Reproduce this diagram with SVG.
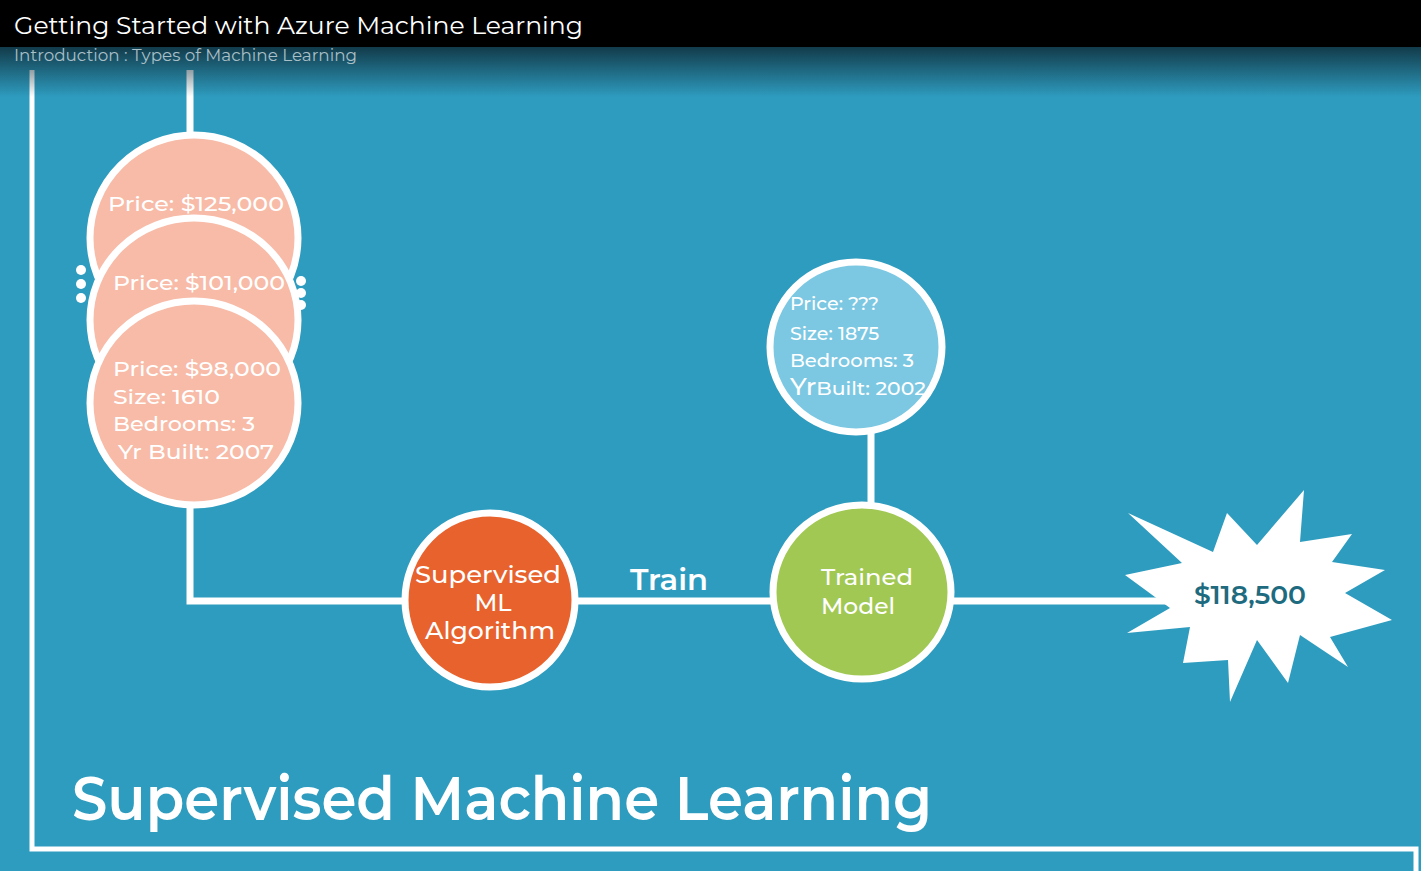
<svg xmlns="http://www.w3.org/2000/svg" width="1421" height="871" viewBox="0 0 1421 871">
<defs>
<linearGradient id="fade" x1="0" y1="0" x2="0" y2="1">
<stop offset="0" stop-color="#0d2a36" stop-opacity="0.85"/>
<stop offset="1" stop-color="#0d2a36" stop-opacity="0"/>
</linearGradient>
<style>
.t{font-family:"Montserrat","Open Sans","Noto Sans",sans-serif;fill:#fff}
.ln{stroke:#fff;stroke-width:7;fill:none}
.node{stroke:#fff;stroke-width:7}
.pink{fill:#F7BBA8}
.lbl{font-size:21px;font-weight:500}
</style>
</defs>
<rect width="1421" height="871" fill="#2E9CBF"/>
<g id="frame">
<polyline points="32,70 32,849 1416,849 1416,871" fill="none" stroke="#fff" stroke-width="5"/>
</g>
<g id="connectors">
<line class="ln" x1="190" y1="70" x2="190" y2="140"/>
<polyline class="ln" points="190,500 190,601 410,601"/>
<line class="ln" x1="572" y1="601" x2="776" y2="601"/>
<line class="ln" x1="871" y1="425" x2="871" y2="508"/>
<line class="ln" x1="950" y1="601" x2="1180" y2="601"/>
</g>
<rect x="0" y="47" width="1421" height="50" fill="url(#fade)"/>
<rect x="0" y="0" width="1421" height="47" fill="#000"/>
<text class="t" x="14" y="34" font-size="25" textLength="569" lengthAdjust="spacingAndGlyphs">Getting Started with Azure Machine Learning</text>
<text class="t" x="14" y="61" font-size="16" style="fill:#a9bfc7" textLength="343" lengthAdjust="spacingAndGlyphs">Introduction : Types of Machine Learning</text>
<g id="dots" fill="#fff">
<circle cx="81" cy="270" r="5"/><circle cx="81" cy="284" r="5"/><circle cx="81" cy="298" r="5"/>
<circle cx="301" cy="281" r="5"/><circle cx="301" cy="293" r="5"/><circle cx="301" cy="305" r="5"/>
</g>
<g id="house1">
<ellipse class="node pink" cx="194" cy="238" rx="104" ry="103"/>
<text class="t lbl" x="108" y="211" textLength="176" lengthAdjust="spacingAndGlyphs">Price: $125,000</text>
</g>
<g id="house2">
<ellipse class="node pink" cx="194" cy="320" rx="104" ry="102"/>
<text class="t lbl" x="113" y="290" textLength="172" lengthAdjust="spacingAndGlyphs">Price: $101,000</text>
</g>
<g id="house3">
<ellipse class="node pink" cx="194" cy="403" rx="104" ry="102"/>
<text class="t lbl" x="113" y="376" textLength="168" lengthAdjust="spacingAndGlyphs">Price: $98,000</text>
<text class="t lbl" x="113" y="404" textLength="107" lengthAdjust="spacingAndGlyphs">Size: 1610</text>
<text class="t lbl" x="113" y="431" textLength="142" lengthAdjust="spacingAndGlyphs">Bedrooms: 3</text>
<text class="t lbl" x="118" y="459" textLength="156" lengthAdjust="spacingAndGlyphs">Yr Built: 2007</text>
</g>
<g id="newhouse">
<ellipse class="node" cx="856" cy="347" rx="86" ry="85" fill="#7CC8E3"/>
<text class="t" x="790" y="310" font-size="19" font-weight="500">Price: ???</text>
<text class="t" x="790" y="340" font-size="19" font-weight="500">Size: 1875</text>
<text class="t" x="790" y="367" font-size="19" font-weight="500" textLength="124" lengthAdjust="spacingAndGlyphs">Bedrooms: 3</text>
<text class="t" x="790" y="395" font-size="19" font-weight="500" textLength="136" lengthAdjust="spacingAndGlyphs"><tspan font-size="24">Yr</tspan>Built: 2002</text>
</g>
<g id="algorithm">
<ellipse class="node" cx="490" cy="600" rx="85" ry="87" fill="#E8622D"/>
<text class="t" x="488" y="583" font-size="24" font-weight="500" text-anchor="middle" textLength="146" lengthAdjust="spacingAndGlyphs">Supervised</text>
<text class="t" x="493" y="611" font-size="24" font-weight="500" text-anchor="middle">ML</text>
<text class="t" x="490" y="639" font-size="24" font-weight="500" text-anchor="middle" textLength="130" lengthAdjust="spacingAndGlyphs">Algorithm</text>
</g>
<text class="t" x="669" y="590" font-size="30" font-weight="600" text-anchor="middle" textLength="78" lengthAdjust="spacingAndGlyphs">Train</text>
<g id="model">
<ellipse class="node" cx="862" cy="592" rx="89" ry="87" fill="#A1C853"/>
<text class="t" x="867" y="585" font-size="22" font-weight="500" text-anchor="middle" textLength="92" lengthAdjust="spacingAndGlyphs">Trained</text>
<text class="t" x="858" y="614" font-size="22" font-weight="500" text-anchor="middle" textLength="74" lengthAdjust="spacingAndGlyphs">Model</text>
</g>
<g id="prediction">
<polygon fill="#fff" points="1227,513 1257,545 1304,490 1300,542 1352,534 1332,562 1385,570 1345,593 1392,620 1330,637 1348,667 1300,635 1288,683 1257,640 1230,702 1228,660 1183,663 1190,627 1127,633 1170,608 1125,575 1182,563 1128,513 1213,552"/>
<text x="1250" y="604" font-family="Montserrat,'Open Sans','Noto Sans',sans-serif" font-size="25" font-weight="600" fill="#1E6B80" text-anchor="middle" textLength="112" lengthAdjust="spacingAndGlyphs">$118,500</text>
</g>
<text class="t" x="72" y="820" font-size="60" font-weight="600" textLength="860" lengthAdjust="spacingAndGlyphs">Supervised Machine Learning</text>
</svg>
